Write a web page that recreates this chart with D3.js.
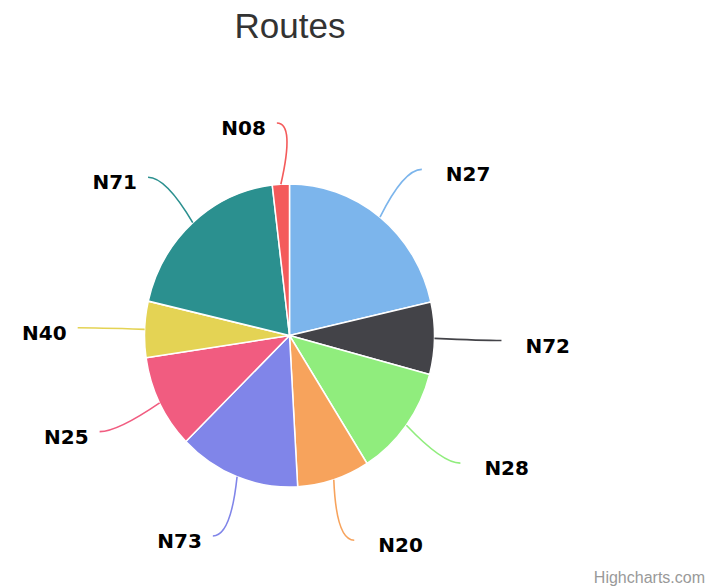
<!DOCTYPE html>
<html>
<head>
<meta charset="utf-8">
<script src="https://cdnjs.cloudflare.com/ajax/libs/d3/7.8.5/d3.min.js"></script>
<style>
  body { margin: 0; background: #fff; }
</style>
</head>
<body>
<div id="chart"></div>
<script>
var width = 708;
var height = 586;

// data (share of routes, %)
var routes = ["N27", "N72", "N28", "N20", "N73", "N25", "N40", "N71", "N08"];
var shares = [21.5, 7.7, 11.9, 8.1, 13.6, 10.0, 6.0, 19.5, 1.9];
var colors = ["#7cb5ec", "#434348", "#90ed7d", "#f7a35c", "#8085e9", "#f15c80", "#e4d354", "#2b908f", "#f45b5b"];

var cx = 289.5;
var cy = 335.5;
var radius = 145;
var sy = 1.045;      // picture is a little taller than wide
var labelRadius = 212;

var svg = d3.select("#chart").append("svg")
    .attr("width", width)
    .attr("height", height);

svg.append("text")
    .attr("x", 290)
    .attr("y", 38)
    .attr("text-anchor", "middle")
    .attr("font-family", "Liberation Sans, Arial, sans-serif")
    .attr("font-size", "35px")
    .attr("fill", "#333333")
    .text("Routes");

var pie = d3.pie().sort(null).value(function (d) { return d; });
var arcs = pie(shares);

var arc = d3.arc().innerRadius(0).outerRadius(radius);

var slices = svg.append("g")
    .attr("transform", "translate(" + cx + "," + cy + ") scale(1," + sy + ")");

slices.selectAll("path")
    .data(arcs)
    .enter()
    .append("path")
    .attr("d", arc)
    .attr("fill", function (d, i) { return colors[i]; })
    .attr("stroke", "#ffffff")
    .attr("stroke-width", 1.5)
    .attr("stroke-linejoin", "round");

var polar = function (a, r) {
    return [cx + r * Math.sin(a), cy - r * Math.cos(a) * sy];
};

// label anchor: vertical spread is smaller than the slices'
var anchor = function (a) {
    return [cx + labelRadius * Math.sin(a), cy + 1 - labelRadius * Math.cos(a) * 1.009];
};

var mid = function (d) { return (d.startAngle + d.endAngle) / 2; };

var connectors = svg.append("g");
connectors.selectAll("path")
    .data(arcs)
    .enter()
    .append("path")
    .attr("d", function (d) {
        var a = mid(d);
        var p0 = polar(a, radius);
        var e = anchor(a);
        var side = Math.sin(a) >= 0 ? 1 : -1;
        var c = [e[0] - side * 18, e[1]];
        return "M" + p0[0] + "," + p0[1] + " Q" + c[0] + "," + c[1] + " " + e[0] + "," + e[1];
    })
    .attr("fill", "none")
    .attr("stroke", function (d, i) { return colors[i]; })
    .attr("stroke-width", 1.6);

var labels = svg.append("g");
labels.selectAll("text")
    .data(arcs)
    .enter()
    .append("text")
    .attr("x", function (d) {
        var a = mid(d);
        var e = anchor(a);
        return Math.sin(a) >= 0 ? e[0] + 24 : e[0] - 11;
    })
    .attr("y", function (d) {
        return anchor(mid(d))[1] + 12;
    })
    .attr("text-anchor", function (d) {
        return Math.sin(mid(d)) >= 0 ? "start" : "end";
    })
    .attr("font-family", "DejaVu Sans, sans-serif")
    .attr("font-weight", "bold")
    .attr("font-size", "20px")
    .attr("fill", "#000000")
    .attr("stroke", "#ffffff")
    .attr("stroke-width", 2)
    .attr("paint-order", "stroke")
    .text(function (d, i) { return routes[i]; });

svg.append("text")
    .attr("x", 705)
    .attr("y", 583)
    .attr("text-anchor", "end")
    .attr("font-family", "Liberation Sans, Arial, sans-serif")
    .attr("font-size", "16px")
    .attr("fill", "#999999")
    .text("Highcharts.com");
</script>
</body>
</html>
